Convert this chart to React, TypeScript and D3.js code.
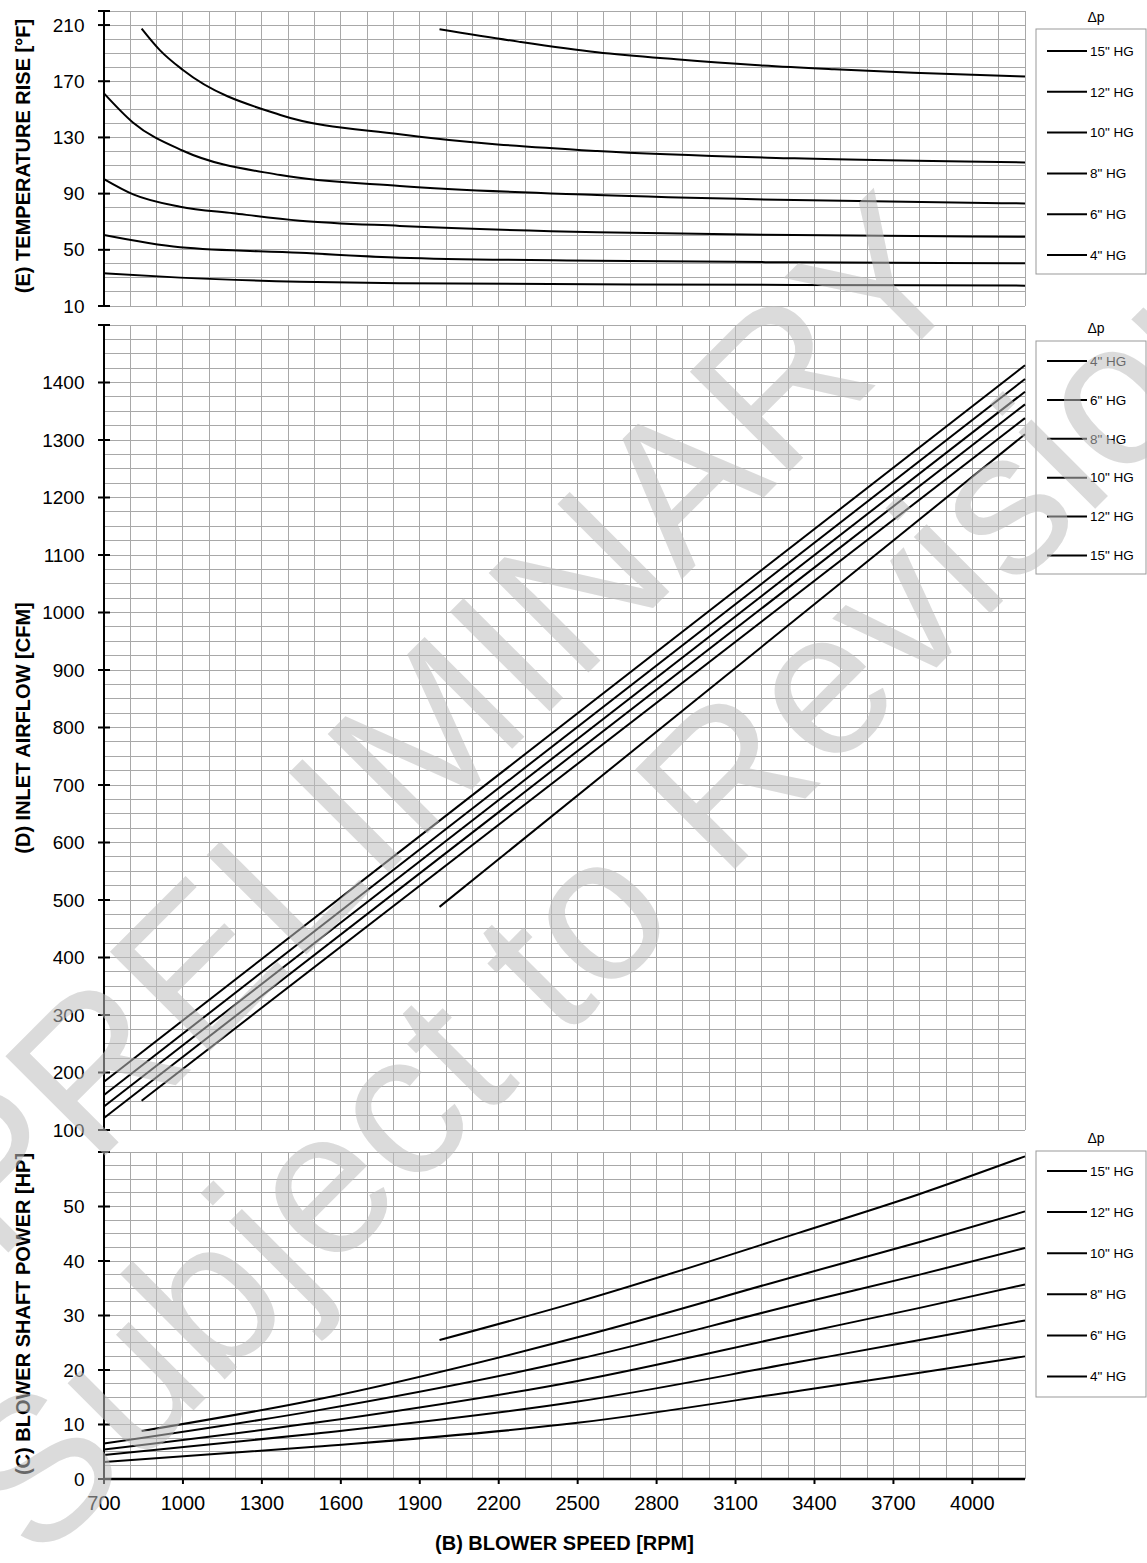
import React from "react";
import * as d3 from "d3";

const RPM_TICKS = [700, 1000, 1300, 1600, 1900, 2200, 2500, 2800, 3100, 3400, 3700, 4000];
const SERIES_NAMES = ['4" HG', '6" HG', '8" HG', '10" HG', '12" HG', '15" HG'];

// Temperature rise [°F] vs RPM
const TEMP_4 = [[700, 33.3], [989, 30.2], [1444, 27.3], [1824, 26.2], [3324, 25], [4200, 24.5]];
const TEMP_6 = [[700, 60.5], [989, 51.8], [1444, 47.9], [1824, 44.4], [2574, 42.2], [3324, 41.1], [4200, 40.4]];
const TEMP_8 = [[700, 100.4], [811, 89.5], [989, 80.7], [1191, 76], [1444, 70.7], [1824, 67], [2574, 62.5], [3324, 60.5], [4200, 59.3]];
const TEMP_10 = [[700, 161.4], [811, 140.5], [1000, 120.5], [1370, 103.2], [1824, 95.4], [2574, 89], [3324, 85.4], [4200, 83]];
const TEMP_12 = [[843, 207.5], [913, 192], [1000, 178], [1370, 146], [1824, 132.2], [2574, 120.3], [3324, 115.1], [4200, 112.2]];
const TEMP_15 = [[1975, 207], [2274, 198.2], [2574, 190.6], [2874, 185.6], [3174, 181.5], [3475, 178.5], [3775, 176], [4200, 173.4]];
const TEMP_TICKS = [10, 50, 90, 130, 170, 210];

// Inlet airflow [CFM] vs RPM
const FLOW_4 = [[700, 184], [4200, 1430]];
const FLOW_6 = [[700, 161], [4200, 1406]];
const FLOW_8 = [[700, 141], [4200, 1384]];
const FLOW_10 = [[700, 121], [4200, 1362]];
const FLOW_12 = [[843, 151], [4200, 1338]];
const FLOW_15 = [[1975, 488], [4200, 1310]];
const FLOW_TICKS = [100, 200, 300, 400, 500, 600, 700, 800, 900, 1000, 1100, 1200, 1300, 1400];

// Blower shaft power [HP] vs RPM
const POW_4 = [[700, 3.1], [1500, 5.9], [2500, 10.3], [3343, 16.2], [3800, 19.5], [4200, 22.5]];
const POW_6 = [[700, 4.4], [1500, 8.3], [2500, 14.2], [3343, 21.5], [3800, 25.5], [4200, 29.1]];
const POW_8 = [[700, 5.4], [1500, 10.3], [2500, 18], [3343, 26.7], [3800, 31.4], [4200, 35.7]];
const POW_10 = [[700, 6.5], [1500, 12.5], [2500, 22], [3343, 32.2], [3800, 37.5], [4200, 42.4]];
const POW_12 = [[843, 8.8], [1500, 14.5], [2500, 26], [3343, 37.4], [3800, 43.5], [4200, 49.1]];
const POW_15 = [[1975, 25.5], [2500, 32.5], [3343, 45.2], [3800, 52.3], [4200, 59.2]];
const POW_TICKS = [0, 10, 20, 30, 40, 50];

const FONT = "'Liberation Sans', Arial, Helvetica, sans-serif";
const X0 = 104, X1 = 1025;

const x = d3.scaleLinear().domain([700, 4200]).range([X0, X1]);

function Panel({ y, domain, minor, ticks, series, title, titleY }) {
  const line = d3.line().x((d) => x(d[0])).y((d) => y(d[1])).curve(d3.curveMonotoneX);
  const hLines = d3.range(domain[0], domain[1] + minor / 2, minor);
  const vLines = d3.range(700, 4200 + 1, 100);
  return (
    <g>
      {vLines.map((v) => (
        <line key={"v" + v} x1={x(v)} x2={x(v)} y1={y(domain[0])} y2={y(domain[1])} stroke="#a8a8a8" strokeWidth={1} shapeRendering="crispEdges" />
      ))}
      {hLines.map((v) => (
        <line key={"h" + v} x1={X0} x2={X1} y1={y(v)} y2={y(v)} stroke="#a8a8a8" strokeWidth={1} shapeRendering="crispEdges" />
      ))}
      {series.map((s, i) => (
        <path key={"s" + i} d={line(s)} fill="none" stroke="#000" strokeWidth={2} />
      ))}
      <line x1={X0} x2={X0} y1={y(domain[0])} y2={y(domain[1])} stroke="#000" strokeWidth={2} />
      {ticks.concat([domain[1]]).map((t) => (
        <line key={"t" + t} x1={X0 - 6} x2={X0 + 6} y1={y(t)} y2={y(t)} stroke="#000" strokeWidth={2} />
      ))}
      {ticks.map((t) => (
        <text key={"l" + t} x={84.5} y={y(t)} dy="0.35em" textAnchor="end" fontSize={19} fontFamily={FONT}>{t}</text>
      ))}
      <text transform={`translate(30,${titleY}) rotate(-90)`} textAnchor="middle" fontSize={20} fontWeight="bold" fontFamily={FONT}>{title}</text>
    </g>
  );
}

function Legend({ top, bottom, labelY, rows, spacing, first }) {
  return (
    <g fontFamily={FONT}>
      <text x={1096} y={labelY} textAnchor="middle" fontSize={14}>Δp</text>
      <rect x={1036} y={top} width={110} height={bottom - top} fill="#fff" stroke="#999" strokeWidth={1} />
      {rows.map((r, i) => (
        <g key={r}>
          <line x1={1047} x2={1087} y1={first + i * spacing} y2={first + i * spacing} stroke="#000" strokeWidth={2} />
          <text x={1090} y={first + i * spacing} dy="0.35em" fontSize={13.5}>{r}</text>
        </g>
      ))}
    </g>
  );
}

export default function App() {
  const yT = d3.scaleLinear().domain([10, 220]).range([306, 11]);
  const yQ = d3.scaleLinear().domain([100, 1500]).range([1130, 325]);
  const yP = d3.scaleLinear().domain([0, 60]).range([1479, 1152]);
  const desc = SERIES_NAMES.slice().reverse();
  return (
    <svg width={1147} height={1563} style={{ position: "absolute", left: 0, top: 0, background: "#fff" }}>
      <rect width={1147} height={1563} fill="#fff" />
      <Panel y={yT} domain={[10, 220]} minor={10} ticks={TEMP_TICKS}
        series={[TEMP_4, TEMP_6, TEMP_8, TEMP_10, TEMP_12, TEMP_15]}
        title="(E) TEMPERATURE RISE [°F]" titleY={156} />
      <Panel y={yQ} domain={[100, 1500]} minor={25} ticks={FLOW_TICKS}
        series={[FLOW_4, FLOW_6, FLOW_8, FLOW_10, FLOW_12, FLOW_15]}
        title="(D) INLET AIRFLOW [CFM]" titleY={728} />
      <Panel y={yP} domain={[0, 60]} minor={2.5} ticks={POW_TICKS}
        series={[POW_4, POW_6, POW_8, POW_10, POW_12, POW_15]}
        title="(C) BLOWER SHAFT POWER [HP]" titleY={1314} />
      <line x1={X0} x2={X1} y1={1479} y2={1479} stroke="#000" strokeWidth={2.5} />
      {RPM_TICKS.map((t) => (
        <g key={"xt" + t}>
          <line x1={x(t)} x2={x(t)} y1={1479} y2={1484} stroke="#000" strokeWidth={2} />
          <text x={x(t)} y={1510} textAnchor="middle" fontSize={20} fontFamily={FONT}>{t}</text>
        </g>
      ))}
      <text x={(X0 + X1) / 2} y={1550} textAnchor="middle" fontSize={20} fontWeight="bold" fontFamily={FONT}>(B) BLOWER SPEED [RPM]</text>
      <Legend top={29} bottom={274} labelY={22} rows={desc} spacing={40.8} first={51} />
      <Legend top={341} bottom={574} labelY={333} rows={SERIES_NAMES} spacing={38.9} first={361} />
      <Legend top={1151} bottom={1397} labelY={1143} rows={desc} spacing={41.1} first={1171} />
      <g fill="#bdbdbd" fillOpacity={0.55} fontFamily={FONT}>
        <text transform="translate(-3.5,1264.5) rotate(-45)" fontSize={205}>PRELIMINARY</text>
        <text transform="translate(38,1566) rotate(-45)" fontSize={205}>Subject to Revision</text>
      </g>
    </svg>
  );
}
